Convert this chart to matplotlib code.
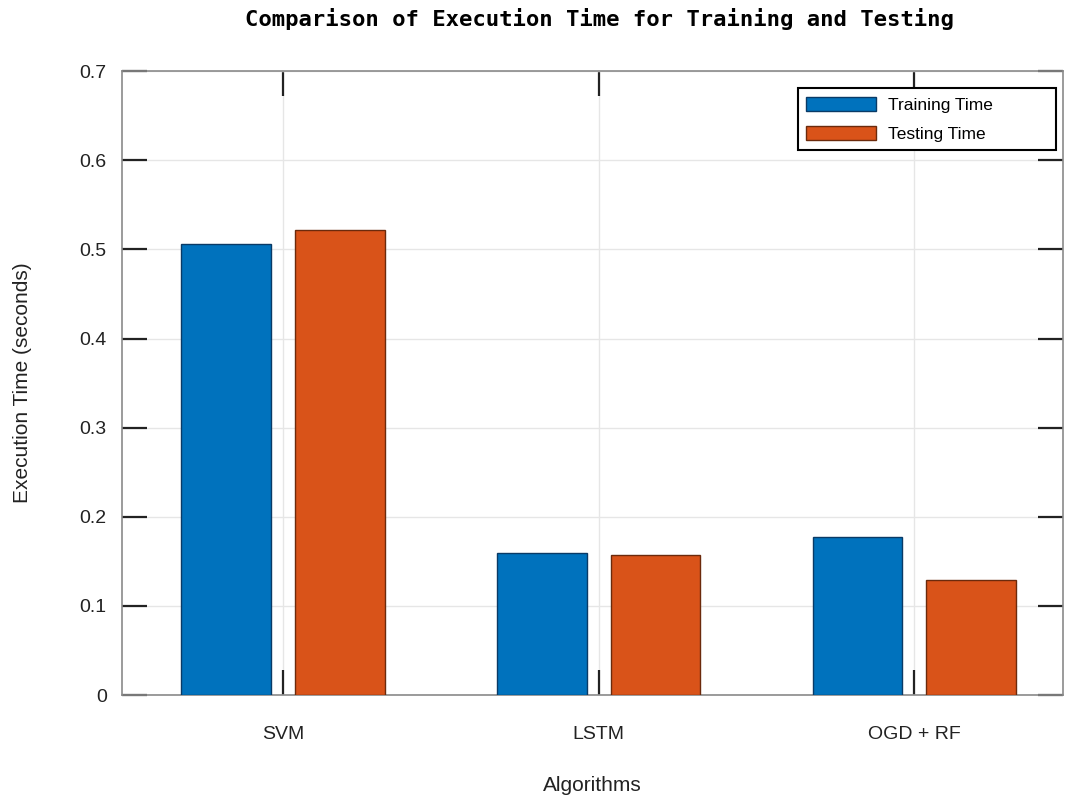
import numpy as np
import matplotlib
matplotlib.use("Agg")
import matplotlib.pyplot as plt

# data
algorithms = ['SVM', 'LSTM', 'OGD + RF']
training_time = [0.506, 0.159, 0.177]
testing_time = [0.522, 0.157, 0.129]

blue = '#0072BD'
orange = '#D95319'

plt.rcParams['font.family'] = ['Liberation Sans', 'DejaVu Sans']

fig = plt.figure(figsize=(10.65, 7.99), dpi=100)
ax = fig.add_axes([0.1146, 0.130, 0.8834, 0.781])

x = np.arange(1, len(algorithms) + 1)
w = 0.284
off = 0.18
ax.bar(x - off, training_time, w, color=blue, edgecolor='#0a3a66', linewidth=1.0,
       label='Training Time', zorder=3)
ax.bar(x + off, testing_time, w, color=orange, edgecolor='#6b2a0c', linewidth=1.0,
       label='Testing Time', zorder=3)

ax.set_xlim(0.49, 3.47)
ax.set_ylim(0, 0.7)
ax.set_xticks(x)
ax.set_xticklabels(algorithms)
ax.set_yticks(np.arange(0, 0.71, 0.1))
ax.set_yticklabels(['0', '0.1', '0.2', '0.3', '0.4', '0.5', '0.6', '0.7'])

ax.grid(True, color='#e6e6e6', linewidth=1.0, zorder=0)
ax.set_axisbelow(True)
for s in ax.spines.values():
    s.set_color('#8a8a8a')
    s.set_linewidth(1.2)

ax.tick_params(axis='both', direction='in', length=18, width=1.6, color='#222222',
               labelsize=14, labelcolor='#222222')
ax.tick_params(axis='x', top=True, pad=22)
ax.tick_params(axis='y', right=True, pad=11)

ax.set_xlabel('Algorithms', fontsize=15, color='#222222', labelpad=24)
ax.set_ylabel('Execution Time (seconds)', fontsize=15, color='#222222', labelpad=34)
fig.suptitle('Comparison of Execution Time for Training and Testing',
             family='DejaVu Sans Mono', fontweight='bold', fontsize=16,
             x=0.563, y=0.99, va='top')

leg = ax.legend(loc='upper left', bbox_to_anchor=(0.718, 0.8734, 0.275, 0.0994),
                mode='expand', borderaxespad=0, fontsize=12.5,
                fancybox=False, framealpha=1, edgecolor='black',
                handlelength=4.0, handleheight=0.85, borderpad=0.5,
                labelspacing=0.75, handletextpad=0.7)
leg.get_frame().set_linewidth(1.5)

fig.savefig('out.png', dpi=100)
